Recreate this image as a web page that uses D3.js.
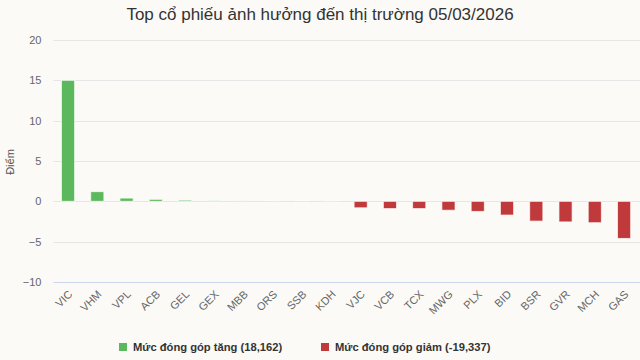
<!DOCTYPE html>
<html><head><meta charset="utf-8">
<script src="https://cdn.jsdelivr.net/npm/d3@7"></script>
<style>body{margin:0;background:#fbfaf7;}svg{display:block;font-family:"Liberation Sans",Arial,sans-serif;}</style>
</head><body><svg id="c" width="640" height="360"></svg>
<script>
const categories = ["VIC","VHM","VPL","ACB","GEL","GEX","MBB","ORS","SSB","KDH","VJC","VCB","TCX","MWG","PLX","BID","BSR","GVR","MCH","GAS"];
const values = [15.0,1.2,0.4,0.25,0.15,0.06,0.05,0.04,0.04,0.03,-0.8,-0.9,-0.9,-1.1,-1.25,-1.7,-2.45,-2.55,-2.65,-4.6];
const yTicks = [-10,-5,0,5,10,15,20];
const legendLabels = ["Mức đóng góp tăng (18,162)","Mức đóng góp giảm (-19,337)"];
const title = "Top cổ phiếu ảnh hưởng đến thị trường 05/03/2026";
const colors = {up:"#5cb85c", down:"#c0393b"};

const svg = d3.select("#c");
svg.append("rect").attr("width",640).attr("height",360).attr("fill","#fbfaf7");
const pLeft=53.4, pRight=638.7, pTop=40, pBottom=282;
const x = d3.scaleBand().domain(categories).range([pLeft,pRight]).paddingInner(0.55).paddingOuter(0.275);
const y = d3.scaleLinear().domain([-10,20]).range([pBottom,pTop]);

svg.append("text").attr("x",320).attr("y",20).attr("text-anchor","middle")
  .attr("font-size",17).attr("fill","#333").text(title);

const g = svg.append("g");
g.selectAll("line.grid").data(yTicks.filter(t=>t!==-10)).join("line")
  .attr("x1",pLeft).attr("x2",640).attr("y1",d=>Math.round(y(d))+0.5).attr("y2",d=>Math.round(y(d))+0.5)
  .attr("stroke","#e6e6e6").attr("stroke-width",1);
g.append("line").attr("x1",pLeft).attr("x2",640).attr("y1",Math.round(y(-10))+0.5).attr("y2",Math.round(y(-10))+0.5)
  .attr("stroke","#ccd6eb").attr("stroke-width",1);

const yAxis = d3.axisLeft(y).tickValues(yTicks).tickSize(0).tickPadding(0);
const ya = svg.append("g").attr("transform",`translate(${pLeft-12},0)`).call(yAxis);
ya.select(".domain").remove();
ya.selectAll("text").attr("font-size",11).attr("fill","#666").attr("font-family","Liberation Sans, Arial, sans-serif");

svg.append("text").attr("transform","translate(14,162) rotate(-90)").attr("text-anchor","middle")
  .attr("font-size",11).attr("fill","#555").text("Điểm");

svg.selectAll("rect.bar").data(categories).join("rect")
  .attr("x",d=>x(d)).attr("width",x.bandwidth())
  .attr("y",(d,i)=>Math.min(y(0),y(values[i])))
  .attr("height",(d,i)=>Math.abs(y(values[i])-y(0)))
  .attr("fill",(d,i)=>values[i]>=0?colors.up:colors.down)
  .attr("stroke","#ffffff").attr("stroke-opacity",0.7).attr("stroke-width",1);

const xAxis = d3.axisBottom(x).tickSize(0).tickPadding(0);
const xa = svg.append("g").attr("transform",`translate(0,${pBottom})`).call(xAxis);
xa.select(".domain").remove();
xa.selectAll("text").attr("font-size",11).attr("fill","#666").attr("font-family","Liberation Sans, Arial, sans-serif")
  .attr("text-anchor","end").attr("dy",0).attr("y",0)
  .attr("transform","translate(5,13) rotate(-45)");

const leg = svg.append("g");
const lx=[119,321];
legendLabels.forEach((t,i)=>{
  leg.append("rect").attr("x",lx[i]).attr("y",343).attr("width",8).attr("height",8)
    .attr("fill",i===0?colors.up:colors.down);
  leg.append("text").attr("x",lx[i]+14).attr("y",351).attr("font-size",11.2).attr("font-weight","bold")
    .attr("fill","#333").text(t);
});
</script></body></html>
